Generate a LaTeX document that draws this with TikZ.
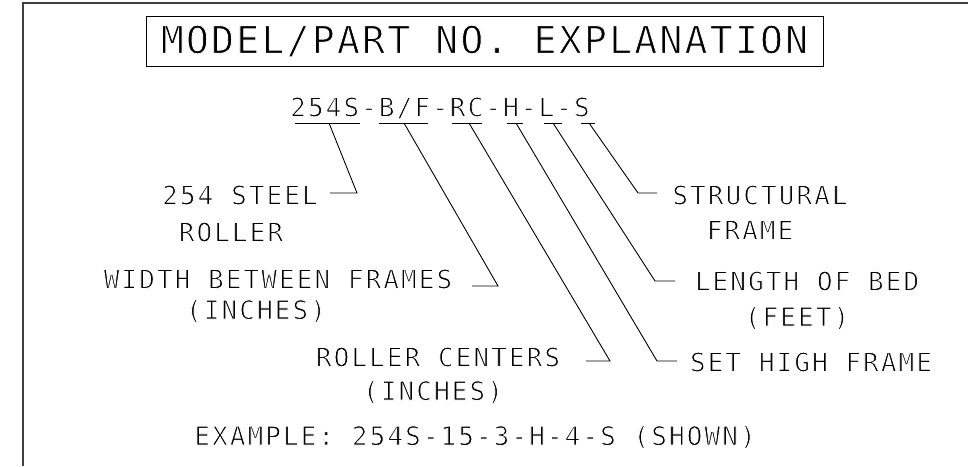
\documentclass[tikz,border=0pt]{standalone}
\usepackage{fontspec}
\newfontfamily\cadfont[LetterSpace=8]{DejaVu Sans Mono}
\newfontfamily\cadtitle[LetterSpace=6]{DejaVu Sans Mono}
\newcommand\cadthin{\special{pdf:literal direct 2 Tr 1 1 1 RG 0.85 w}}
\tikzset{
  lbl/.style={font=\cadfont\fontsize{26}{30}\selectfont\cadthin, inner sep=0pt, anchor=center},
  ttl/.style={font=\cadtitle\fontsize{38}{44}\selectfont\cadthin, draw, line width=0.9pt, minimum width=677pt, minimum height=50pt, inner sep=0pt},
  lead/.style={line width=0.9pt, black},
  sheet/.style={line width=1.6pt, black!75}
}
\begin{document}
\begin{tikzpicture}[x=1pt,y=-1pt]
\useasboundingbox (0,0) rectangle (968,466);
% sheet border
\coordinate (f1) at (23,466);
\coordinate (f2) at (23,3);
\coordinate (f3) at (968,3);
\draw[sheet] (f1) -- (f2) -- (f3);

% title
\node[ttl] (title) at (484.5,41) {MODEL/PART NO. EXPLANATION};

% part number
\node[lbl] (pn) at (440,108) {254S-B/F-RC-H-L-S};

% underlines
\coordinate (u1a) at (295,123); \coordinate (u1b) at (360,123);
\coordinate (u2a) at (379,123); \coordinate (u2b) at (428,123);
\coordinate (u3a) at (452,123); \coordinate (u3b) at (482,123);
\coordinate (u4a) at (507,123); \coordinate (u4b) at (523,123);
\coordinate (u5a) at (544,123); \coordinate (u5b) at (562,123);
\coordinate (u6a) at (581,123); \coordinate (u6b) at (595,123);
\draw[lead] (u1a) -- (u1b);
\draw[lead] (u2a) -- (u2b);
\draw[lead] (u3a) -- (u3b);
\draw[lead] (u4a) -- (u4b);
\draw[lead] (u5a) -- (u5b);
\draw[lead] (u6a) -- (u6b);

% leader start points
\coordinate (s1) at (329,123);
\coordinate (s2) at (404,123);
\coordinate (s3) at (469,123);
\coordinate (s4) at (516,123);
\coordinate (s5) at (553,123);
\coordinate (s6) at (589,123);
% corners
\coordinate (c1) at (357,193);
\coordinate (c2) at (498,286);
\coordinate (c3) at (610,361);
\coordinate (c4) at (657,361);
\coordinate (c5) at (655,281);
\coordinate (c6) at (638,193);
% ends
\coordinate (e1) at (330,193);
\coordinate (e2) at (472,286);
\coordinate (e3) at (586,361);
\coordinate (e4) at (677,361);
\coordinate (e5) at (675,281);
\coordinate (e6) at (657,193);

\draw[lead] (s1) -- (c1) -- (e1);
\draw[lead] (s2) -- (c2) -- (e2);
\draw[lead] (s3) -- (c3) -- (e3);
\draw[lead] (s4) -- (c4) -- (e4);
\draw[lead] (s5) -- (c5) -- (e5);
\draw[lead] (s6) -- (c6) -- (e6);

% labels left
\node[lbl] (l1a) at (240,195) {254 STEEL};
\node[lbl] (l1b) at (231,232) {ROLLER};
\node[lbl] (l2a) at (278,279) {WIDTH BETWEEN FRAMES};
\node[lbl] (l2b) at (256,311) {(INCHES)};
\node[lbl] (l3a) at (438,357) {ROLLER CENTERS};
\node[lbl] (l3b) at (433,392) {(INCHES)};
% labels right
\node[lbl] (l6a) at (760,195) {STRUCTURAL};
\node[lbl] (l6b) at (750,230) {FRAME};
\node[lbl] (l5a) at (807,281) {LENGTH OF BED};
\node[lbl] (l5b) at (797,318) {(FEET)};
\node[lbl] (l4a) at (811,362) {SET HIGH FRAME};
% example
\node[lbl] (ex) at (475,437) {EXAMPLE: 254S-15-3-H-4-S (SHOWN)};
\end{tikzpicture}
\end{document}
